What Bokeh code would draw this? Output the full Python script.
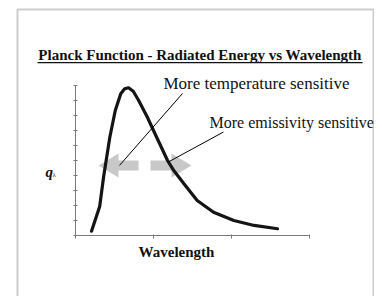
from bokeh.plotting import figure
from bokeh.models import Range1d, FixedTicker, Label, BoxAnnotation, LinearAxis
from bokeh.embed import file_html
from bokeh.resources import INLINE

# ---- data ----
wavelength = [0.205, 0.31, 0.36, 0.44, 0.51, 0.58, 0.63, 0.68, 0.74, 0.81, 0.92, 1.0, 1.09,
              1.18, 1.26, 1.39, 1.56, 1.77, 2.03, 2.29, 2.59]
energy = [0.29, 1.93, 3.9, 6.55, 8.33, 9.45, 9.78, 9.85, 9.62, 9.0, 7.9, 7.0, 6.0,
          5.0, 4.33, 3.45, 2.33, 1.55, 1.0, 0.67, 0.45]
x_ticks = [0, 1, 2, 3]
y_ticks = list(range(0, 11))

title_text = "Planck Function - Radiated Energy vs Wavelength"
x_label = "Wavelength"
y_label = "q"
y_label_sub = "λ"
temp_text = "More temperature sensitive"
emis_text = "More emissivity sensitive"

# arrows: (tail x, tip x, y) in data units
arrows_tail = [0.808, 0.962]
arrows_tip = [0.295, 1.487]
arrows_y = [4.67, 4.67]
# leader lines (text end -> arrow)
lead_x0 = [1.372, 1.897]
lead_y0 = [9.47, 6.9]
lead_x1 = [0.564, 1.18]
lead_y1 = [4.67, 4.87]

# ---- layout helpers: canvas pixel -> data ----
X0, PX = 75.0, 78.0    # pixel of x=0, pixels per x unit
Y0, PY = 235.0, 15.0   # pixel of y=0, pixels per y unit
FW, FH = 374, 296
TXT = 5.5              # text baseline correction (px)

def dx(px):
    return (px - X0) / PX

def dy(py):
    return (Y0 - py) / PY

def ty(py):
    return dy(py - TXT)

p = figure(frame_width=FW, frame_height=FH, output_backend="svg", toolbar_location=None,
           x_range=Range1d(dx(0), dx(FW)), y_range=Range1d(dy(FH), dy(0)),
           x_axis_location=None, y_axis_location=None, min_border=0)
p.background_fill_color = "white"
p.border_fill_color = "white"
p.outline_line_color = None
p.grid.visible = False

xaxis = LinearAxis(fixed_location=0, bounds=(x_ticks[0], x_ticks[-1]),
                   ticker=FixedTicker(ticks=x_ticks), major_tick_in=1, major_tick_out=3)
yaxis = LinearAxis(fixed_location=0, bounds=(y_ticks[0], y_ticks[-1]),
                   ticker=FixedTicker(ticks=y_ticks), major_tick_in=2, major_tick_out=2)
for ax in (xaxis, yaxis):
    ax.axis_line_color = "#7a7a7a"
    ax.major_tick_line_color = "#7a7a7a"
    ax.minor_tick_line_color = None
    ax.major_label_text_color = None
    ax.major_label_standoff = 0
    ax.axis_label = None
p.add_layout(xaxis, "below")
p.add_layout(yaxis, "right")

# block arrows
xs, ys = [], []
sh = 5 / PY   # shaft half height
hh = 12 / PY  # head half height
hl = 20 / PX  # head length
for t, tip, y in zip(arrows_tail, arrows_tip, arrows_y):
    d = 1 if tip > t else -1
    base = tip - d * hl
    xs.append([t, base, base, tip, base, base, t])
    ys.append([y - sh, y - sh, y - hh, y, y + hh, y + sh, y + sh])
p.patches(xs, ys, fill_color="#c8c8c8", line_color=None)

# curve
p.line(wavelength, energy, line_width=3.2, line_color="#141414", line_join="round", line_cap="round")

# leader lines
p.segment(lead_x0, lead_y0, lead_x1, lead_y1, line_color="black", line_width=1)

serif = "Liberation Serif"
p.add_layout(Label(x=dx(199.5), y=ty(60), text=title_text, text_align="center",
                   text_baseline="alphabetic", text_font=serif, text_font_size="15px",
                   text_font_style="bold", text_color="#111111"))
p.add_layout(BoxAnnotation(left=dx(37), right=dx(362), top=dy(61.6), bottom=dy(62.7),
                           fill_color="#111111", fill_alpha=1, line_color=None))
p.add_layout(Label(x=dx(163), y=ty(88), text=temp_text, text_align="left",
                   text_baseline="alphabetic", text_font=serif, text_font_size="17px",
                   text_color="#111111"))
p.add_layout(Label(x=dx(209), y=ty(127.3), text=emis_text, text_align="left",
                   text_baseline="alphabetic", text_font=serif, text_font_size="16px",
                   text_color="#111111"))
p.add_layout(Label(x=dx(176), y=ty(257), text=x_label, text_align="center",
                   text_baseline="alphabetic", text_font=serif, text_font_size="15px",
                   text_font_style="bold", text_color="#111111"))
p.add_layout(Label(x=dx(45), y=ty(177), text=y_label, text_align="left",
                   text_baseline="alphabetic", text_font=serif, text_font_size="15px",
                   text_font_style="bold italic", text_color="#111111"))
p.add_layout(Label(x=dx(52), y=ty(180), text=y_label_sub, text_align="left",
                   text_baseline="alphabetic", text_font=serif, text_font_size="7px",
                   text_color="#111111"))

# frame border around the whole slide
p.add_layout(BoxAnnotation(left=dx(17), right=dx(373), top=dy(9), bottom=dy(330),
                           fill_color=None, line_color="#5a5a5a", line_width=2))

open("out.html", "w").write(file_html(p, INLINE))
